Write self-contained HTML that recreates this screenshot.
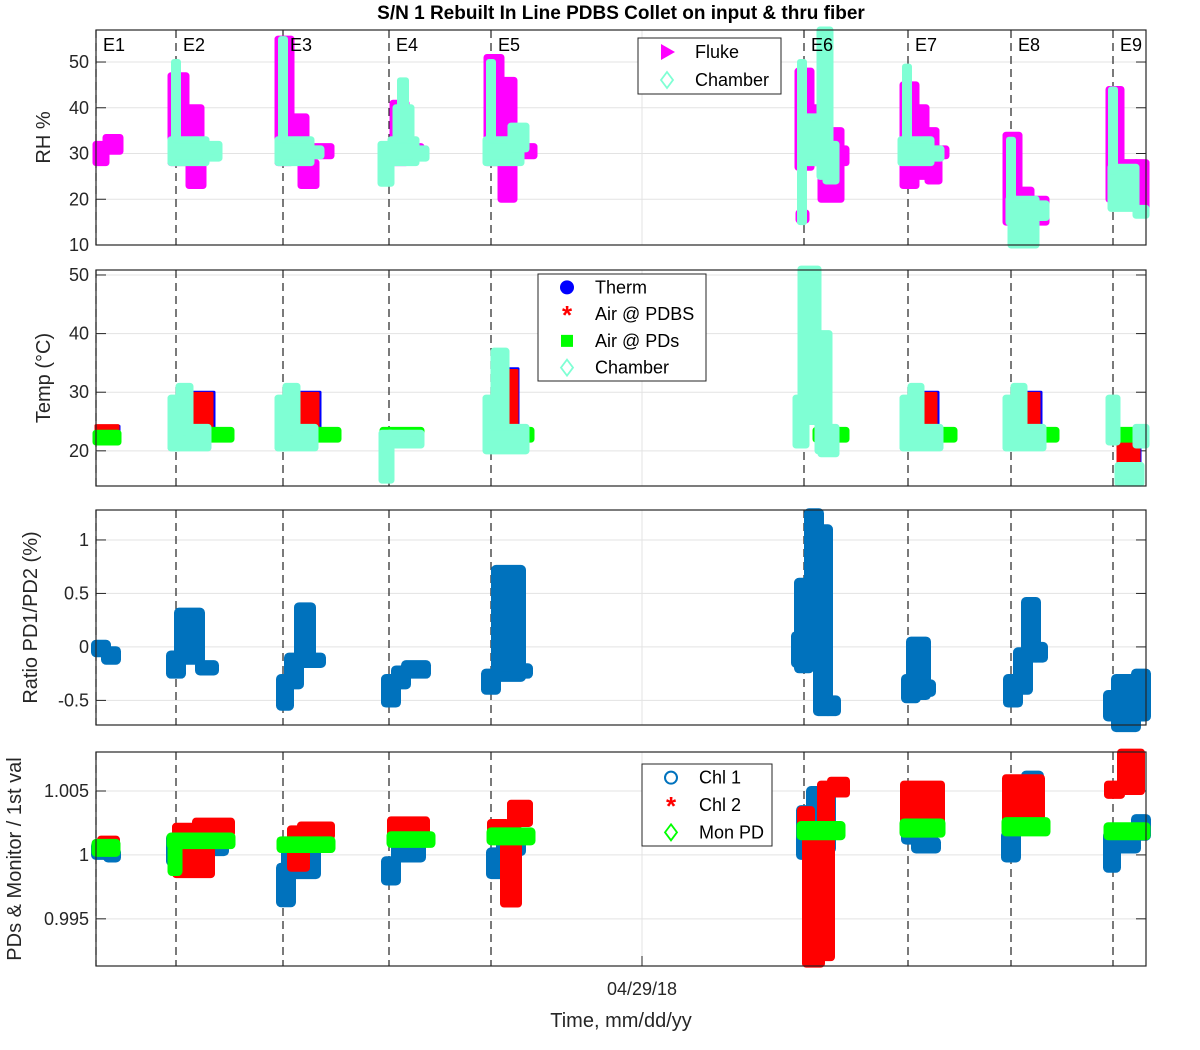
<!DOCTYPE html>
<html><head><meta charset="utf-8"><style>
body{margin:0;background:#fff}
svg{display:block;font-family:"Liberation Sans",Arial,sans-serif}
</style></head><body>
<svg id="c" width="1200" height="1050" viewBox="0 0 1200 1050" xmlns="http://www.w3.org/2000/svg"></svg>
<script>
// ===== data (time in hours from start, value ranges [t0,t1,lo,hi]) =====
const eventNames = ["E1","E2","E3","E4","E5","E6","E7","E8","E9"];
const eventTimes = [0,8,18.7,29.3,39.5,70.8,81.2,91.5,101.7];
const xTickLabels = ["04/29/18"];
const xTickTimes = [54.6];

const rhTicks = [10,20,30,40,50];
const rhFluke = [[0,1,28,32],[1,2.4,30.5,33.5],
 [7.5,9,28,47],[9,10.5,28,40],[9.3,10.7,23,28],[10,12,29.5,31.5],
 [18.2,19.5,28,55],[19.5,21,30,38],[20.5,22,23,28],[21,23.5,29.5,31.5],
 [29.7,31,28,41],[31,32.5,29.5,31.5],
 [39.1,40.5,28,51],[40.5,41.8,20,46],[41.8,43.8,29.5,31.5],
 [70.2,71.5,27,48],[71.5,72.5,28,40],[72.5,74.5,20,35],[74.5,75,28,31],[70.3,71,15.5,17],
 [80.7,82,23,45],[82,83,25,40],[82,84,30,35],[83.2,84.3,24,30],[84,85,29.5,31],
 [91,92.3,15,34],[92.3,93.5,12,22],[93.5,95,15,20],
 [101.3,102.5,20,44],[102.5,104,22,28],[104,105,17,28]];
const rhChamberCols = [[7.8,8.2,33,50],[18.5,18.9,33,55],[30.4,31,33,46],[39.3,39.7,33,50],[70.4,70.8,15,50],[80.9,81.3,33,49],[91.3,91.7,20,33],[101.5,101.9,26,44]];
const rhChamber = [[7.5,11,28,33],[11,12.3,29,32],
 [18.2,21.5,28,33],[21.5,22.5,29.5,31],
 [28.5,29.5,23.5,32],[29.5,32,28,33],[30,31.5,33,40],[32,33,29,31],
 [39,42.5,28,33],[41.5,43,31,36],
 [70.5,73,28,38],[72.4,73.4,25,57],[73,74,24,32],
 [80.5,83.5,28,33],[83.5,84.5,29,31],
 [91.3,92,15,20],[91.5,94,10,20],[94,95,16,19],
 [101.5,104,18,27],[104,105,16.5,18]];

const tTicks = [20,30,40,50];
const tTherm = [[0,2.3,22.5,24.2],[9.7,11.8,23,30],[20.4,22.4,23,30],[41.1,42.2,23,34],[72.6,73.2,22,36],[82.6,84.2,23,30],[92.9,94.5,23,30],[102.2,104.4,15.5,23]];
const tAir = [[0,2.2,22.8,24.3],[9.7,11.6,23.5,29.8],[20.4,22.2,23.5,29.8],[41.1,42.1,23.5,33.7],[72.6,73.1,23,35.5],[82.6,84,23.5,29.8],[92.9,94.3,23.5,29.8],[102.2,104.3,15.8,22.5]];
const tPDs = [[0,2.2,21.5,23],[9,13.5,22,23.5],[19.7,24.2,22,23.5],[28.7,32.5,21.8,23.5],[40,43.5,22,23.5],[72,75,22,23.5],[82.2,85.8,22,23.5],[92.5,96,22,23.5],[101.5,105,22,23.5]];
const tChamber = [[7.5,11.2,20.5,24],[7.5,8.3,20.5,29],[8.3,9.4,22,31],
 [18.2,21.9,20.5,24],[18.2,19,20.5,29],[19,20.1,22,31],
 [28.6,29.5,15,23],[29.3,32.5,21,23],
 [39,40,21,29],[39.8,41,21,37],[39,43,20,24],
 [70,71,21,29],[70.5,72.2,25,51],[72.2,73.3,20,40],[72.5,74,19.5,24],
 [80.7,84.4,20.5,24],[80.7,81.5,20.5,29],[81.5,82.5,22,31],
 [91,94.7,20.5,24],[91,91.8,20.5,29],[91.8,92.8,22,31],
 [101.3,102.1,21.5,29],[102.2,104.5,14.5,17.5],[104,105,21,24]];

const rTicks = [-0.5,0,0.5,1];
const ratio = [[0,1,-0.05,0.02],[1,2,-0.12,-0.04],
 [7.5,8.5,-0.25,-0.08],[8.3,10.4,-0.12,0.32],[10.4,11.8,-0.22,-0.17],
 [18.5,19.3,-0.55,-0.3],[19.3,20.3,-0.35,-0.1],[20.3,21.5,-0.15,0.37],[21.5,22.5,-0.15,-0.1],
 [29,30,-0.52,-0.3],[30,31,-0.35,-0.22],[31,33,-0.25,-0.17],
 [39,40,-0.4,-0.25],[40,42.5,-0.28,0.72],[42,43.2,-0.25,-0.2],
 [70,71,-0.15,0.1],[70.3,71.3,-0.2,0.6],[71.3,72.3,0.3,1.25],[72.2,73.2,-0.6,1.1],[73.2,74,-0.6,-0.5],
 [81,82,-0.48,-0.3],[81.5,83,-0.45,0.05],[82.2,83.5,-0.42,-0.35],
 [91.2,92.2,-0.52,-0.3],[92.2,93.2,-0.4,-0.05],[93,94,-0.1,0.42],[94,94.7,-0.1,0],
 [101.2,102.2,-0.65,-0.45],[102,104,-0.75,-0.3],[104,105,-0.65,-0.25]];

const pTicks = [0.995,1,1.005];
const chl1 = [[0,1.5,1.0,1.0007],[1.2,2,0.9998,1.0002],[7.5,9,0.9995,1.0013],[11.5,12.8,1.0003,1.001],
 [18.5,19.5,0.9963,0.999],[19,22,0.9985,1.001],[29,30,0.998,0.9995],[30,32.5,0.9998,1.0008],
 [39.5,40.5,0.9985,1.0002],[40.5,42.5,1.0003,1.0015],[70.5,71.5,1.0,1.0035],[71.5,73.5,1.0005,1.005],
 [81,82,1.0012,1.0025],[82,84,1.0005,1.001],[91,92,0.9998,1.0015],[93,94.3,1.0025,1.0062],
 [101.2,102,0.999,1.0015],[102,104,1.0005,1.002],[104,105,1.0015,1.0028]];
const chl2 = [[0.5,2,1.0003,1.0012],[8,11.5,0.9985,1.0022],[10,13.5,1.0017,1.0026],
 [19.5,21,0.999,1.002],[20.5,23.5,1.0015,1.0023],[29.5,33,1.0015,1.0027],
 [39.5,41,1.0015,1.0025],[40.8,42.2,0.9962,1.002],[41.5,43.3,1.0025,1.004],
 [70.5,71.5,1.0015,1.0035],[71,72.5,0.9915,1.0012],[72.5,73.5,0.992,1.0055],[73.5,75,1.0048,1.0058],
 [80.8,84.5,1.0025,1.0055],[91,94.5,1.0025,1.006],[101.2,102.5,1.0047,1.0055],[102.5,104.5,1.005,1.008]];
const monPD = [[0,2,1.0002,1.0009],[7.5,13.5,1.0008,1.0014],[7.6,8.2,0.9987,1.0005],[18.5,23.5,1.0005,1.0011],
 [29.5,33.5,1.0009,1.0015],[39.5,43.5,1.0011,1.0018],[70.5,74.5,1.0015,1.0023],[80.8,84.5,1.0017,1.0025],
 [91,95,1.0018,1.0026],[101.2,105,1.0015,1.0022]];

// ===== drawing =====
const NS="http://www.w3.org/2000/svg", svg=document.getElementById('c');
const X0=96,X1=1146,T0=0,T1=105;
const xs=t=>X0+(t-T0)/(T1-T0)*(X1-X0);
function el(tag,attrs,parent,txt){const e=document.createElementNS(NS,tag);for(const k in attrs)e.setAttribute(k,attrs[k]);if(txt!==undefined)e.textContent=txt;(parent||svg).appendChild(e);return e;}
const panels=[
 {name:'rh',top:30,bot:245,min:10,max:57,ticks:rhTicks,label:'RH %',lx:50},
 {name:'temp',top:270,bot:486,min:14,max:50.85,ticks:tTicks,label:'Temp (°C)',lx:50},
 {name:'ratio',top:510,bot:725,min:-0.73,max:1.28,ticks:rTicks,label:'Ratio PD1/PD2 (%)',lx:37},
 {name:'pds',top:752,bot:966,min:0.99131,max:1.00805,ticks:pTicks,label:'PDs & Monitor / 1st val',lx:21}];
panels.forEach(p=>{p.ys=v=>p.bot-(v-p.min)/(p.max-p.min)*(p.bot-p.top);});

function drawAxes(p){
  const g=el('g',{},svg);
  
  
  p.ticks.forEach(v=>{const y=p.ys(v);
    el('line',{x1:X0,x2:X1,y1:y,y2:y,stroke:'#e3e3e3','stroke-width':1},g);
    el('line',{x1:X0,x2:X0+10,y1:y,y2:y,stroke:'#262626'},g);
    el('line',{x1:X1-10,x2:X1,y1:y,y2:y,stroke:'#262626'},g);
    const t=el('text',{x:X0-7,y:y+6,'text-anchor':'end','font-size':18,fill:'#262626'},g,String(v));
    
  });
  xTickTimes.forEach(t=>{el('line',{x1:xs(t),x2:xs(t),y1:p.top,y2:p.bot,stroke:'#e3e3e3'},g);});
  eventTimes.forEach((t,i)=>{
    const l=el('line',{x1:xs(t),x2:xs(t),y1:p.top,y2:p.bot,stroke:'#222','stroke-width':1.2,'stroke-dasharray':'8,5'},g);
    
  });
  const yl=el('text',{x:p.lx,y:(p.top+p.bot)/2,'text-anchor':'middle','font-size':20,fill:'#262626',transform:`rotate(-90 ${p.lx} ${(p.top+p.bot)/2})`},svg,p.label);
  
}
function drawFrame(p){
  const r=el('rect',{x:X0,y:p.top,width:X1-X0,height:p.bot-p.top,fill:'none',stroke:'#262626','stroke-width':1.2},svg);
  
}
function drawSeries(p,data,color,name,pad,fill){
  const g=el('g',{},svg);
  
  
  data.forEach(d=>{
    const x0=xs(d[0]),x1=xs(d[1]),y0=p.ys(d[3]),y1=p.ys(d[2]);
    const r=el('rect',{x:x0,y:y0,width:Math.max(1,x1-x0),height:Math.max(1,y1-y0),fill:fill||color,stroke:color,'stroke-width':pad||7,'stroke-linejoin':'round'},g);
    
    
  });
}
panels.forEach(drawAxes);
const [P1,P2,P3,P4]=panels;
drawSeries(P1,rhFluke,'#ff00ff','fluke-series');
drawSeries(P1,rhChamber,'#7fffd4','rh-chamber-series');
drawSeries(P1,rhChamberCols,'#7fffd4','rh-chamber-diamond-column',6,'none');
drawSeries(P2,tTherm,'#0000ff','therm-series',3);
drawSeries(P2,tAir,'#ff0000','air-pdbs-series',3);
drawSeries(P2,tPDs,'#00ff00','air-pds-series');
drawSeries(P2,tChamber,'#7fffd4','temp-chamber-series');
drawSeries(P3,ratio,'#0072bd','ratio-series',10);
drawSeries(P4,chl1,'#0072bd','chl1-series',10);
drawSeries(P4,chl2,'#ff0000','chl2-series',8);
drawSeries(P4,monPD,'#00ff00','monpd-series',9);
panels.forEach(drawFrame);

eventTimes.forEach((t,i)=>{
  const tx=el('text',{x:xs(t)+7,y:51,'font-size':18,fill:'#000'},svg,eventNames[i]);
  
  
});
xTickTimes.forEach((t,i)=>{
  el('line',{x1:xs(t),x2:xs(t),y1:P4.bot,y2:P4.bot-10,stroke:'#262626'},svg);
  const tx=el('text',{x:xs(t),y:995,'text-anchor':'middle','font-size':18,fill:'#262626'},svg,xTickLabels[i]);
  
  
});
const xl=el('text',{x:621,y:1027,'text-anchor':'middle','font-size':20,fill:'#262626'},svg,'Time, mm/dd/yy');


const ti=el('text',{x:621,y:19,'text-anchor':'middle','font-size':19,'font-weight':'bold',fill:'#000'},svg,'S/N 1 Rebuilt In Line PDBS Collet on input & thru fiber');



function legend(x,y,w,h,items,name){
  const g=el('g',{},svg);
  
  
  el('rect',{x:x,y:y,width:w,height:h,fill:'#fff',stroke:'#262626','stroke-width':1},g);
  const step=h/items.length;
  items.forEach((it,i)=>{
    const cy=y+step*(i+0.5), cx=x+29;
    const e=el('g',{},g);
    
    
    const c=it[1];
    if(it[0]==='tri') el('polygon',{points:`${cx-6},${cy-8} ${cx+8},${cy} ${cx-6},${cy+8}`,fill:c},e);
    if(it[0]==='dia') el('polygon',{points:`${cx},${cy-8} ${cx+6},${cy} ${cx},${cy+8} ${cx-6},${cy}`,fill:'none',stroke:c,'stroke-width':1.8},e);
    if(it[0]==='dot') el('circle',{cx:cx,cy:cy,r:7,fill:c},e);
    if(it[0]==='circ') el('circle',{cx:cx,cy:cy,r:6,fill:'none',stroke:c,'stroke-width':2},e);
    if(it[0]==='sq') el('rect',{x:cx-6,y:cy-6,width:12,height:12,fill:c},e);
    if(it[0]==='ast') el('text',{x:cx,y:cy+10,'text-anchor':'middle','font-size':26,'font-weight':'bold',fill:c},e,'*');
    el('text',{x:x+57,y:cy+6,'font-size':18,fill:'#000'},e,it[2]);
  });
}
legend(638,38,143,56,[['tri','#ff00ff','Fluke'],['dia','#7fffd4','Chamber']],'rh-legend');
legend(538,274,168,107,[['dot','#0000ff','Therm'],['ast','#ff0000','Air @ PDBS'],['sq','#00ff00','Air @ PDs'],['dia','#7fffd4','Chamber']],'temp-legend');
legend(642,764,130,82,[['circ','#0072bd','Chl 1'],['ast','#ff0000','Chl 2'],['dia','#00ff00','Mon PD']],'pds-legend');
</script>
</body></html>
